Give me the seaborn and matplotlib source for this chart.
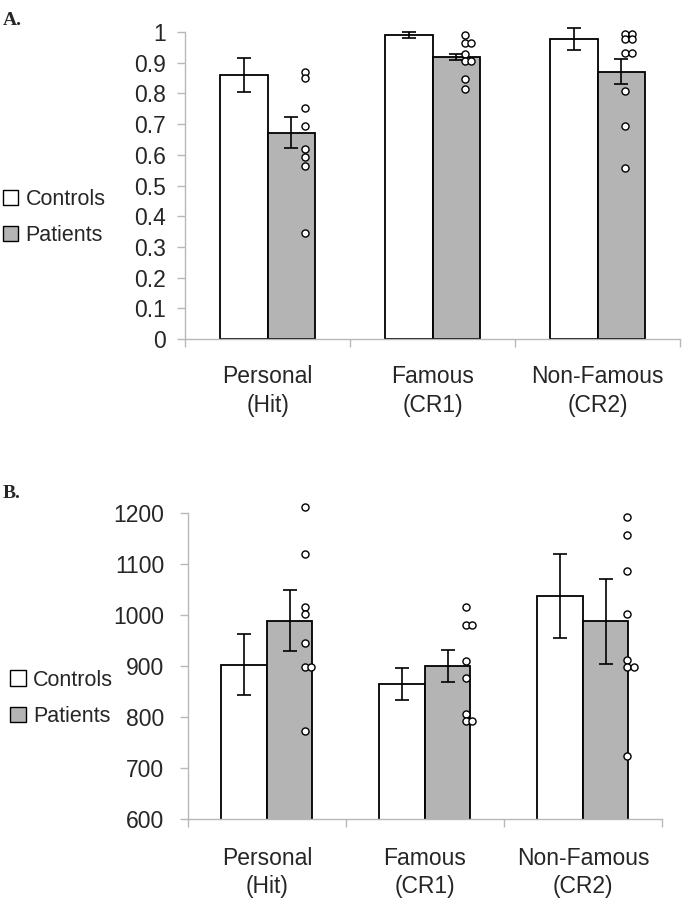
import numpy as np
import pandas as pd
import matplotlib
matplotlib.use("Agg")
import matplotlib.pyplot as plt
import seaborn as sns
from matplotlib.patches import Patch

sns.set_style("white")
plt.rcParams['font.family'] = ['Liberation Sans', 'DejaVu Sans']

# ---------------- data ----------------
categories = ["Personal\n(Hit)", "Famous\n(CR1)", "Non-Famous\n(CR2)"]
groups = ["Controls", "Patients"]

# Panel A (proportion)
a_controls_mean = [0.86, 0.99, 0.977]
a_controls_err = [0.055, 0.011, 0.036]
a_patients_mean = [0.672, 0.918, 0.871]
a_patients_err = [0.05, 0.01, 0.04]
a_pat_personal = [0.87, 0.85, 0.754, 0.694, 0.618, 0.594, 0.563, 0.347]
a_pat_famous = [0.99, 0.965, 0.965, 0.93, 0.905, 0.905, 0.846, 0.813]
a_pat_nonfamous = [0.993, 0.993, 0.976, 0.976, 0.932, 0.932, 0.808, 0.694, 0.558]
a_yticks = [0, 0.1, 0.2, 0.3, 0.4, 0.5, 0.6, 0.7, 0.8, 0.9, 1]
a_yticklabels = ["0", "0.1", "0.2", "0.3", "0.4", "0.5", "0.6", "0.7", "0.8", "0.9", "1"]

# Panel B (RT, ms)
b_controls_mean = [903, 865, 1038]
b_controls_err = [60, 32, 83]
b_patients_mean = [989, 900, 988]
b_patients_err = [60, 32, 83]
b_pat_personal = [1213, 1121, 1017, 1003, 946, 899, 899, 773]
b_pat_famous = [1017, 981, 981, 911, 876, 807, 793, 793]
b_pat_nonfamous = [1192, 1157, 1087, 1002, 912, 899, 899, 724]
b_yticks = [600, 700, 800, 900, 1000, 1100, 1200]
b_yticklabels = ["600", "700", "800", "900", "1000", "1100", "1200"]

GREY = "#b4b4b4"
AXCOL = "#b8b8b8"

fig = plt.figure(figsize=(6.96, 9), dpi=100)
axA = fig.add_axes([0.266, 0.6233, 0.711, 0.3411])
axB = fig.add_axes([0.270, 0.0900, 0.681, 0.3397])


def panel(ax, cmean, cerr, pmean, perr, dots, yticks, ylabels, ylim, dot_off, dup_thr, ypad, xpad):
    df = pd.DataFrame({
        "cond": categories * 2,
        "group": [groups[0]] * 3 + [groups[1]] * 3,
        "mean": list(cmean) + list(pmean),
    })
    sns.barplot(data=df, x="cond", y="mean", hue="group", order=categories,
                hue_order=groups, palette={"Controls": "white", "Patients": GREY},
                edgecolor="black", linewidth=1.3, width=0.576, gap=0,
                errorbar=None, ax=ax, legend=False, saturation=1)
    for cont, err in zip(ax.containers, [cerr, perr]):
        xs = [b.get_x() + b.get_width() / 2 for b in cont]
        ys = [b.get_height() + b.get_y() for b in cont]
        ax.errorbar(xs, ys, yerr=err, fmt="none", ecolor="black",
                    elinewidth=1.2, capsize=5, capthick=1.2, clip_on=False, zorder=4)
    pcont = ax.containers[1]
    for i, (b, vals) in enumerate(zip(pcont, dots)):
        base = b.get_x() + b.get_width() / 2 + dot_off[i]
        xs = []
        prev = None
        shifted = False
        for v in vals:
            if prev is not None and abs(v - prev) < dup_thr and not shifted:
                xs.append(base + 0.042)
                shifted = True
            else:
                xs.append(base)
                shifted = False
            prev = v
        ax.scatter(xs, vals, s=26, facecolor="white", edgecolor="black",
                   linewidth=1.0, zorder=5, clip_on=False)
    ax.set_xlim(-0.5, 2.5)
    ax.set_ylim(*ylim)
    ax.set_yticks(yticks)
    ax.set_yticklabels(ylabels)
    ax.set_xlabel("")
    ax.set_ylabel("")
    for s in ["top", "right"]:
        ax.spines[s].set_visible(False)
    for s in ["left", "bottom"]:
        ax.spines[s].set_color(AXCOL)
        ax.spines[s].set_linewidth(1.0)
    ax.tick_params(axis="y", which="major", direction="out", length=6, width=1,
                   color=AXCOL, labelsize=16.5, pad=ypad, left=True)
    ax.tick_params(axis="x", which="major", length=0, labelsize=16.5, pad=xpad)
    ax.set_xticks([-0.5, 0.5, 1.5, 2.5], minor=True)
    ax.tick_params(axis="x", which="minor", direction="out", length=6, width=1,
                   color=AXCOL, bottom=True)
    for lab in ax.get_xticklabels():
        lab.set_linespacing(1.3)


panel(axA, a_controls_mean, a_controls_err, a_patients_mean, a_patients_err,
      [a_pat_personal, a_pat_famous, a_pat_nonfamous], a_yticks, a_yticklabels,
      (0, 1), [0.085, 0.05, 0.025], 0.012, 8, 19)
panel(axB, b_controls_mean, b_controls_err, b_patients_mean, b_patients_err,
      [b_pat_personal, b_pat_famous, b_pat_nonfamous], b_yticks, b_yticklabels,
      (600, 1200), [0.095, 0.115, 0.135], 8, 11, 20)

handles = [Patch(facecolor="white", edgecolor="black", linewidth=1.0),
           Patch(facecolor=GREY, edgecolor="black", linewidth=1.0)]
for xy in [(0.004, 0.758), (0.015, 0.2244)]:
    fig.legend(handles, groups, loc="center left", bbox_to_anchor=xy,
               frameon=False, fontsize=15.5, handlelength=0.7, handleheight=0.7,
               handletextpad=0.35, labelspacing=0.7, borderpad=0, borderaxespad=0)

fig.text(0.004, 0.977, "A.", fontsize=14, fontweight="bold",
         family="Liberation Serif", va="center", ha="left")
fig.text(0.004, 0.452, "B.", fontsize=14, fontweight="bold",
         family="Liberation Serif", va="center", ha="left")

fig.savefig("out.png", dpi=100, facecolor="white")
